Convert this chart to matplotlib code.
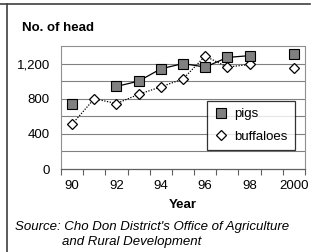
import matplotlib
matplotlib.use("Agg")
import matplotlib.pyplot as plt
import numpy as np
from matplotlib.lines import Line2D

plt.rcParams['font.family'] = ['Liberation Sans', 'DejaVu Sans']

years = ["90", "91", "92", "93", "94", "95", "96", "97", "98", "99", "2000"]
pigs = [740, None, 940, 1000, 1140, 1200, 1160, 1270, 1290, None, 1310]
buffaloes = [510, 800, 745, 850, 935, 1025, 1285, 1160, 1190, None, 1145]
tick_labels = ["90", "92", "94", "96", "98", "2000"]
yticks = [0, 400, 800, 1200]
ytick_labels = ["0", "400", "800", "1,200"]

FS = 9.5

fig = plt.figure(figsize=(3.29, 2.52), dpi=100)
fig.patch.set_facecolor('white')
ax = fig.add_axes([61/329, 1-169/252, 244/329, 123/252])

x = np.arange(len(years))
p = np.array([np.nan if v is None else v for v in pigs], dtype=float)
b = np.array([np.nan if v is None else v for v in buffaloes], dtype=float)

# gridlines
for g in range(200, 1400, 200):
    ax.axhline(g, color='#808080', lw=0.8, zorder=1)

ax.plot(x, b, color='black', lw=0.9, ls=(0, (1, 1.2)), marker='D', ms=4.8,
        mfc='white', mec='black', mew=0.9, zorder=3, label='buffaloes')
ax.plot(x, p, color='black', lw=0.9, ls='-', marker='s', ms=6.5,
        mfc='#808080', mec='black', mew=0.8, zorder=4, label='pigs')

ax.set_xlim(-0.5, len(years) - 0.5)
ax.set_ylim(0, 1400)

ax.set_yticks(yticks)
ax.set_yticklabels(ytick_labels, fontsize=FS)
ax.tick_params(axis='y', length=0, pad=8)

ax.set_xticks(np.arange(-0.5, len(years), 1.0), minor=True)
ax.set_xticks(np.arange(0, len(years), 2))
ax.set_xticklabels(tick_labels, fontsize=FS)
ax.tick_params(axis='x', which='major', length=0, pad=8)
ax.tick_params(axis='x', which='minor', length=4, width=0.8, color='#606060', direction='out')

for s in ['top', 'right', 'left']:
    ax.spines[s].set_color('#909090')
    ax.spines[s].set_linestyle((0, (1, 1)))
    ax.spines[s].set_linewidth(0.8)
ax.spines['bottom'].set_color('#606060')
ax.spines['bottom'].set_linewidth(0.9)

ax.set_xlabel('Year', fontsize=FS, fontweight='bold', labelpad=5)

handles = [
    Line2D([], [], ls='none', marker='s', ms=6.5, mfc='#808080', mec='black', mew=0.8),
    Line2D([], [], ls='none', marker='D', ms=4.8, mfc='white', mec='black', mew=0.9),
]
leg = ax.legend(handles, ['pigs', 'buffaloes'], loc='upper left',
                bbox_to_anchor=((207-61)/244, (169-101)/123), fontsize=FS,
                frameon=True, fancybox=False, borderpad=0.55, handlelength=1.0,
                handletextpad=0.5, labelspacing=0.75, borderaxespad=0)
leg.get_frame().set_edgecolor('black')
leg.get_frame().set_linewidth(0.9)

fig.text(22/329, 1-28/252, 'No. of head', fontsize=FS, fontweight='bold', va='center', ha='left')
fig.text(15/329, 1-227/252, "Source: Cho Don District's Office of Agriculture",
         fontsize=FS, style='italic', va='center', ha='left')
fig.text(62/329, 1-242/252, "and Rural Development",
         fontsize=FS, style='italic', va='center', ha='left')

# outer frame lines (top and left)
fig.add_artist(Line2D([7/329, 7/329], [0, 1-4/252], transform=fig.transFigure, color='#404040', lw=1.2))
fig.add_artist(Line2D([0, 310/329], [1-4/252, 1-4/252], transform=fig.transFigure, color='#404040', lw=1.2))

fig.savefig('out.png', dpi=100, facecolor='white')
